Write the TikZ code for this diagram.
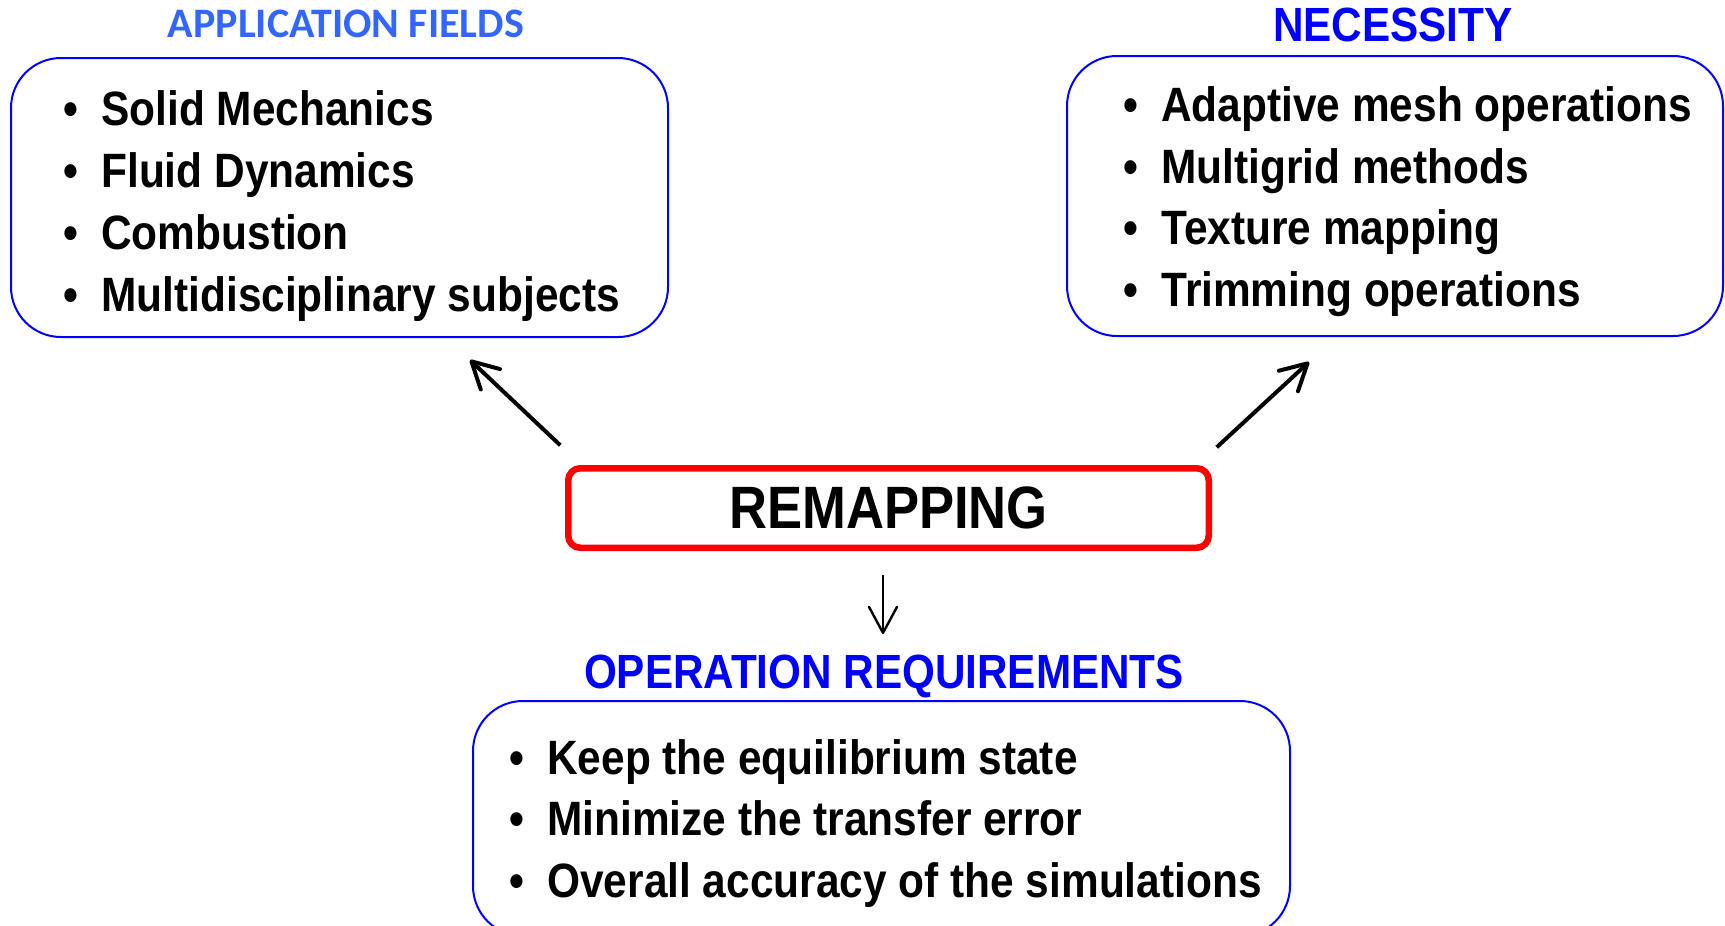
\documentclass[tikz,border=0pt]{standalone}
\usepackage{fontspec}
\setmainfont{Liberation Sans}[FakeStretch=0.88]
\newfontfamily\capfont{Carlito}
\usetikzlibrary{arrows.meta, positioning}
\definecolor{fieldblue}{RGB}{51,102,255}
\definecolor{pureblue}{RGB}{0,0,255}
\definecolor{remapred}{RGB}{255,0,0}
\tikzset{
  listbox/.style={draw=pureblue, line width=1pt, rounded corners=25pt, inner sep=0pt},
  item/.style={anchor=base west, inner sep=0pt, font=\fontsize{24.1}{28}\selectfont\bfseries},
  heading/.style={anchor=base, inner sep=0pt, font=\fontsize{24}{28}\selectfont\bfseries, text=pureblue},
  remapbox/.style={draw=remapred, line width=3.25pt, rounded corners=6pt, minimum width=320.25pt,
    minimum height=39.75pt, inner sep=0pt, font=\fontsize{29.9}{34}\selectfont\bfseries},
  arr/.style={-{Straight Barb[length=13pt,width=14pt,line cap=round,line join=round]}, line width=2pt},
}

\begin{document}
\begin{tikzpicture}[x=0.5pt, y=-0.5pt]
\useasboundingbox (0,0) rectangle (1725,926);
\clip (0,0) rectangle (1725,926);

% the three lists
\node[listbox, minimum width=328.5pt, minimum height=139.5pt] (appbox) at (339.5,197.5) {};
\node[listbox, minimum width=328pt, minimum height=140pt] (necbox) at (1395,196) {};
\node[listbox, minimum width=408.5pt, minimum height=117.5pt] (reqbox) at (881.5,818.5) {};

\node[heading, text=fieldblue, font=\fontsize{21}{25}\selectfont\capfont\bfseries] (apptitle) at (346,37.5) {APPLICATION FIELDS};
\node[heading] (nectitle) at (1393,41) {NECESSITY};
\node[heading] (reqtitle) at (884,688) {OPERATION REQUIREMENTS};

\foreach \txt [count=\i] in {Solid Mechanics, Fluid Dynamics, Combustion, Multidisciplinary subjects}
  \node[item] (app\i) at (63,{125+62*(\i-1)}) {\makebox[19pt][l]{\textbullet}\txt};
\foreach \txt [count=\i] in {Adaptive mesh operations, Multigrid methods, Texture mapping, Trimming operations}
  \node[item] (nec\i) at (1123,{121.5+61.5*(\i-1)}) {\makebox[19pt][l]{\textbullet}\txt};
\foreach \txt [count=\i] in {Keep the equilibrium state, Minimize the transfer error, Overall accuracy of the simulations}
  \node[item] (req\i) at (509,{774+61.5*(\i-1)}) {\makebox[19pt][l]{\textbullet}\txt};

% centre box
\node[remapbox] (remap) at (888.5,508) {REMAPPING};

\draw[arr] ([shift={(-4.75,-19.75)}]remap.north west) -- ([shift={(130.5,22)}]appbox.south);
\draw[arr] ([shift={(4.75,-17.75)}]remap.north east) -- ([shift={(-86,25)}]necbox.south);
\draw[arr, line width=1.2pt] ([shift={(-5.5,23.75)}]remap.south) -- ([shift={(-1,-20)}]reqtitle.north);

\end{tikzpicture}
\end{document}
